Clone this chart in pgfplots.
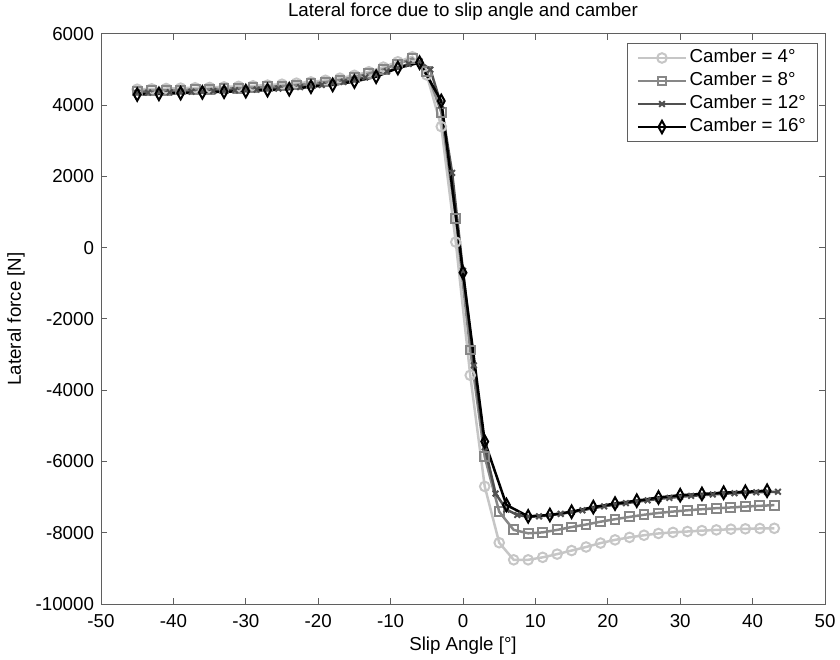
\documentclass[border=0pt]{standalone}
\usepackage{fontspec}
\setmainfont{Liberation Sans}
\usepackage{pgfplots}
\pgfplotsset{compat=1.18}
\definecolor{cA}{RGB}{198,198,198}
\definecolor{cB}{RGB}{135,135,135}
\definecolor{cC}{RGB}{80,80,80}
\definecolor{cD}{RGB}{0,0,0}
\definecolor{axc}{RGB}{95,95,95}
\begin{document}
\begin{tikzpicture}
\useasboundingbox (-50.5bp,-28bp) rectangle (369.5bp,302bp);
\begin{axis}[
  at={(0,0)}, anchor=south west,
  scale only axis, width=362bp, height=285bp,
  xmin=-50, xmax=50, ymin=-10000, ymax=6000,
  xtick={-50,-40,...,50}, ytick={-10000,-8000,...,6000},
  scaled y ticks=false,
  /pgf/number format/assume math mode=true,
  /pgf/number format/1000 sep={},
  font=\fontsize{9.4}{11}\selectfont,
  xticklabel style={yshift=-1.5bp},
  tick align=inside, major tick length=3bp,
  axis line style={axc, line width=0.5bp},
  every tick/.style={axc, line width=0.5bp},
  every axis title shift=0pt,
  title={Lateral force due to slip angle and camber},
  title style={at={(axis description cs:0.5,1.0386)}, anchor=center, inner sep=0pt},
  xlabel={Slip Angle [°]},
  xlabel style={at={(axis description cs:0.5,-0.0737)}, anchor=center, inner sep=0pt},
  ylabel={Lateral force [N]},
  ylabel style={at={(axis description cs:-0.1174,0.5)}, anchor=center, inner sep=0pt},
  legend cell align=left,
  legend style={at={(1,1)}, anchor=north east, xshift=-3.5bp, yshift=-4.5bp,
    draw=axc, line width=0.5bp, fill=white, font=\fontsize{9.4}{11}\selectfont,
    inner xsep=4.5bp, inner ysep=1.5bp, row sep=0pt,
    nodes={inner sep=1.25bp, text height=7bp, text depth=2bp}},
  legend image code/.code={\draw[mark repeat=2,mark phase=2,#1] plot coordinates {(0bp,0bp) (12bp,0bp) (24bp,0bp)};},
]
\addplot[cA, line width=1.25bp, mark=o, mark size=2.4bp, mark options={line width=1bp}] coordinates {
(-45,4450) (-43,4460) (-41,4470) (-39,4480) (-37,4490) (-35,4500) (-33,4515) (-31,4530) (-29,4545) (-27,4565)
(-25,4590) (-23,4620) (-21,4655) (-19,4700) (-17,4760) (-15,4840) (-13,4940) (-11,5070) (-9,5220) (-7,5360)
(-5,4850) (-3,3400) (-1,160) (1,-3580) (3,-6700) (5,-8280) (7,-8760) (9,-8760) (11,-8690) (13,-8600)
(15,-8500) (17,-8400) (19,-8290) (21,-8200) (23,-8130) (25,-8070) (27,-8020) (29,-7990) (31,-7965) (33,-7940)
(35,-7920) (37,-7900) (39,-7890) (41,-7880) (43,-7875)};
\addlegendentry{Camber = 4°}
\addplot[cB, line width=1.25bp, mark=square, mark size=2.2bp, mark options={line width=1bp}] coordinates {
(-45,4400) (-43,4410) (-41,4420) (-39,4430) (-37,4440) (-35,4450) (-33,4465) (-31,4480) (-29,4495) (-27,4515)
(-25,4540) (-23,4570) (-21,4605) (-19,4650) (-17,4710) (-15,4790) (-13,4890) (-11,5010) (-9,5160) (-7,5310)
(-5,4950) (-3,3800) (-1,830) (1,-2870) (3,-5870) (5,-7410) (7,-7920) (9,-8015) (11,-7990) (13,-7920)
(15,-7840) (17,-7770) (19,-7690) (21,-7620) (23,-7555) (25,-7495) (27,-7445) (29,-7405) (31,-7370) (33,-7340)
(35,-7310) (37,-7290) (39,-7265) (41,-7245) (43,-7225)};
\addlegendentry{Camber = 8°}
\addplot[cC, line width=1.25bp, mark=x, mark size=2bp, mark options={line width=1bp}] coordinates {
(-45,4350) (-43.5,4355) (-42,4360) (-40.5,4365) (-39,4370) (-37.5,4380) (-36,4390) (-34.5,4400) (-33,4410) (-31.5,4420)
(-30,4430) (-28.5,4440) (-27,4455) (-25.5,4470) (-24,4490) (-22.5,4510) (-21,4540) (-19.5,4570) (-18,4610) (-16.5,4655)
(-15,4710) (-13.5,4780) (-12,4860) (-10.5,4950) (-9,5050) (-7.5,5160) (-6,5230) (-4.5,5000) (-3,4000) (-1.5,2100)
(0,-650) (1.5,-3300) (3,-5600) (4.5,-6900) (6,-7350) (7.5,-7500) (9,-7550) (10.5,-7540) (12,-7510) (13.5,-7470)
(15,-7420) (16.5,-7370) (18,-7310) (19.5,-7260) (21,-7210) (22.5,-7170) (24,-7130) (25.5,-7090) (27,-7050) (28.5,-7020)
(30,-6990) (31.5,-6965) (33,-6945) (34.5,-6925) (36,-6905) (37.5,-6890) (39,-6875) (40.5,-6865) (42,-6855) (43.5,-6850)};
\addlegendentry{Camber = 12°}
\addplot[cD, line width=1.25bp, mark=diamond, mark size=2.7bp, mark options={line width=1bp, yscale=1.15, xscale=0.85}] coordinates {
(-45,4300) (-42,4320) (-39,4340) (-36,4360) (-33,4380) (-30,4395) (-27,4425) (-24,4450) (-21,4520) (-18,4570)
(-15,4665) (-12,4800) (-9,5045) (-6,5195) (-3,4120) (0,-700) (3,-5440) (6,-7220) (9,-7540) (12,-7500)
(15,-7410) (18,-7280) (21,-7180) (24,-7100) (27,-7010) (30,-6945) (33,-6910) (36,-6875) (39,-6850) (42,-6820)};
\addlegendentry{Camber = 16°}
\end{axis}
\end{tikzpicture}
\end{document}
